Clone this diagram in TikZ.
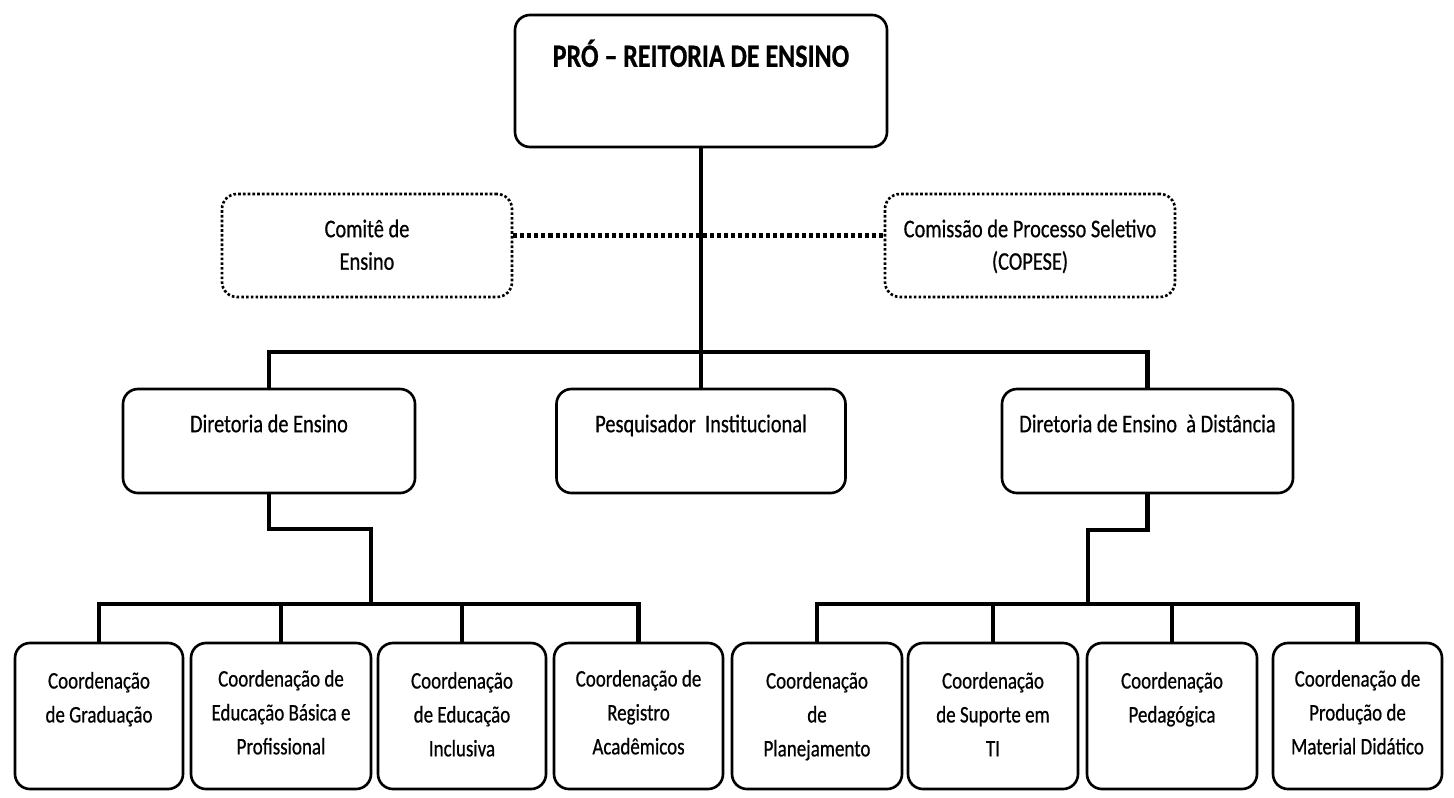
\documentclass[tikz,border=0pt]{standalone}
\usepackage{fontspec}
\setmainfont{Carlito}[FakeStretch=0.8, FakeBold=0.6]
\usetikzlibrary{positioning}

\begin{document}
\begin{tikzpicture}[x=0.2mm, y=-0.2mm,
    box/.style={draw, line width=1.5pt, rounded corners=3mm, inner sep=0pt},
    dotbox/.style={draw, line width=1.5pt, dash pattern=on 1.5pt off 1.2pt,
      rounded corners=3mm, inner sep=0pt, minimum width=58mm, minimum height=20.6mm},
    midbox/.style={box, minimum height=20.8mm},
    lowbox/.style={box, minimum height=29.2mm},
    txt/.style={inner sep=0pt, align=center, font=\fontsize{14.5}{18.5}\selectfont},
    lowtxt/.style={txt, font=\fontsize{13.5}{19.3}\selectfont},
    link/.style={line width=2.3pt},
    dotlink/.style={line width=2.3pt, dash pattern=on 2.3pt off 1.7pt}]
  \useasboundingbox (0,0) rectangle (1454,798);

  % Pro-reitoria
  \node[box, minimum width=74.4mm, minimum height=26.4mm] (top) at (701,81) {};
  \node[txt, font=\fontsize{18.5}{22}\bfseries, below=5.1mm of top.north] (topT) {PRÓ – REITORIA DE ENSINO};

  % comites
  \node[dotbox] (comite) at (367,245.5) {};
  \node[txt, below=5.3mm of comite.north] (comiteT) {Comitê de\\Ensino};
  \node[dotbox] (copese) at (1030,245.5) {};
  \node[txt, below=5.3mm of copese.north] (copeseT) {Comissão de Processo Seletivo\\(COPESE)};

  % diretorias
  \node[midbox, minimum width=58.4mm] (dirE) at (269,441) {};
  \node[txt, below=5.3mm of dirE.north] (dirET) {Diretoria de Ensino};
  \node[midbox, minimum width=57.8mm] (pesq) at (701,441) {};
  \node[txt, below=5.3mm of pesq.north] (pesqT) {Pesquisador~ Institucional};
  \node[midbox, minimum width=58.2mm] (dirD) at (1147.5,441) {};
  \node[txt, below=5.3mm of dirD.north] (dirDT) {Diretoria de Ensino~ à Distância};

  % coordenacoes
  \node[lowbox, minimum width=33.6mm] (c1) at (99,716) {};
  \node[lowtxt, below=6mm of c1.north] (c1T) {Coordenação\\de Graduação};
  \node[lowbox, minimum width=36mm] (c2) at (281,716) {};
  \node[lowtxt, below=5.6mm of c2.north] (c2T) {Coordenação de\\Educação Básica e\\Profissional};
  \node[lowbox, minimum width=33.6mm] (c3) at (462,716) {};
  \node[lowtxt, below=6mm of c3.north] (c3T) {Coordenação\\de Educação\\Inclusiva};
  \node[lowbox, minimum width=33.8mm] (c4) at (638.5,716) {};
  \node[lowtxt, below=5.6mm of c4.north] (c4T) {Coordenação de\\Registro\\Acadêmicos};
  \node[lowbox, minimum width=34mm] (c5) at (817,716) {};
  \node[lowtxt, below=6mm of c5.north] (c5T) {Coordenação\\de\\Planejamento};
  \node[lowbox, minimum width=34mm] (c6) at (993,716) {};
  \node[lowtxt, below=6mm of c6.north] (c6T) {Coordenação\\de Suporte em\\TI};
  \node[lowbox, minimum width=34mm] (c7) at (1172,716) {};
  \node[lowtxt, below=6mm of c7.north] (c7T) {Coordenação\\Pedagógica};
  \node[lowbox, minimum width=33.8mm] (c8) at (1357.5,716) {};
  \node[lowtxt, below=5.6mm of c8.north] (c8T) {Coordenação de\\Produção de\\Material Didático};

  % ligacoes
  \draw[dotlink] ([yshift=2mm]comite.east) -- ([yshift=2mm]copese.west);
  \draw[link] (top.south) -- (pesq.north);
  \draw[link] (dirE.north) -- ++(0,-36) -| (dirD.north);

  \coordinate (lj) at (371,605);
  \draw[link] (dirE.south) -- ++(0,35) -| (lj);
  \draw[link] (c1.north) -- ++(0,-38) -| (c4.north);
  \draw[link] (c2.north) -- (c2.north |- lj);
  \draw[link] (c3.north) -- (c3.north |- lj);

  \coordinate (rj) at (1088,605);
  \draw[link] (dirD.south) -- ++(0,36) -| (rj);
  \draw[link] (c5.north) -- ++(0,-38) -| (c8.north);
  \draw[link] (c6.north) -- (c6.north |- rj);
  \draw[link] (c7.north) -- (c7.north |- rj);
\end{tikzpicture}
\end{document}
